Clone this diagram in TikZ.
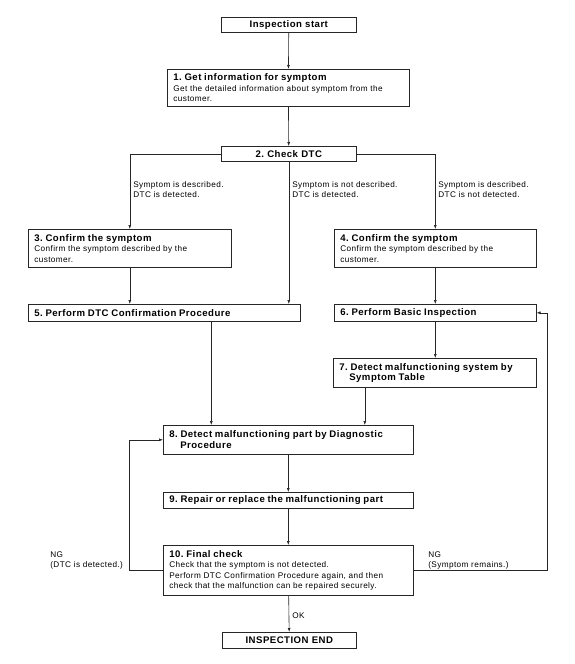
\documentclass[tikz,border=0pt]{standalone}
\usepackage{fontspec}
\setmainfont{Liberation Sans}[LetterSpace=5]
\usetikzlibrary{arrows.meta}
\frenchspacing

\newcommand{\steptitle}[1]{{\fontsize{9.6}{12.5}\selectfont\bfseries #1}}

\begin{document}
\begin{tikzpicture}[x=1pt,y=-1pt,>={Latex[length=4pt,width=3pt]},line width=0.6pt,
        box/.style={draw=black!85, text=black, anchor=north west, inner xsep=6pt, inner ysep=0pt,
            align=left, font=\fontsize{8.2}{10.5}\selectfont},
        endbox/.style={box, align=center, font=\fontsize{9.6}{11}\selectfont\bfseries},
        lbl/.style={text=black, anchor=base west, inner sep=0pt, align=left, font=\fontsize{8.2}{10.5}\selectfont}]
        \useasboundingbox (0,0) rectangle (575,664);

        % boxes
        \node[endbox, text width=123pt, minimum height=15pt] (start) at (221,17) {Inspection start};
        \node[box, text width=230pt, minimum height=37pt] (info) at (167,69)
            {\steptitle{1. Get information for symptom}\\Get the detailed information about symptom from the\\customer.};
        \node[endbox, text width=123pt, minimum height=15pt] (check) at (221,146) {2. Check DTC};
        \node[box, text width=191pt, minimum height=38pt] (conf3) at (28,229)
            {\steptitle{3. Confirm the symptom}\\Confirm the symptom described by the\\customer.};
        \node[box, text width=190pt, minimum height=38pt] (conf4) at (334,229)
            {\steptitle{4. Confirm the symptom}\\Confirm the symptom described by the\\customer.};
        \node[box, text width=260pt, minimum height=17pt] (dtc5) at (28,304)
            {\steptitle{5. Perform DTC Confirmation Procedure}};
        \node[box, text width=190pt, minimum height=17pt] (basic6) at (334,304)
            {\steptitle{6. Perform Basic Inspection}};
        \node[box, text width=191pt, minimum height=29pt] (table7) at (333,358)
            {\steptitle{7. Detect malfunctioning system by}\\\steptitle{\hspace*{10pt}Symptom Table}};
        \node[box, text width=238pt, minimum height=29pt] (diag8) at (163,425)
            {\steptitle{8. Detect malfunctioning part by Diagnostic}\\\steptitle{\hspace*{11pt}Procedure}};
        \node[box, text width=238pt, minimum height=16pt] (repair9) at (163,492)
            {\steptitle{9. Repair or replace the malfunctioning part}};
        \node[box, text width=238pt, minimum height=50pt] (final10) at (163,545)
            {\steptitle{10. Final check}\\Check that the symptom is not detected.\\Perform DTC Confirmation Procedure again, and then\\check that the malfunction can be repaired securely.};
        \node[endbox, text width=122pt, minimum height=16pt] (end) at (222,632) {INSPECTION END};

        % branch labels
        \node[lbl] (lblA) at (133,197.5) {Symptom is described.\\DTC is detected.};
        \node[lbl] (lblB) at (292,197.5) {Symptom is not described.\\DTC is detected.};
        \node[lbl] (lblC) at (438,197.5) {Symptom is described.\\DTC is not detected.};
        \node[lbl] (ngA) at (50,567.5) {NG\\(DTC is detected.)};
        \node[lbl] (ngB) at (428,567.5) {NG\\(Symptom remains.)};
        \node[lbl] (ok) at (292,618) {OK};

        % connectors
        \draw[->,black!85] (start) -- (info);
        \draw[->,black!85] (info) -- (check);
        \draw[->,black!85] (check.west) -| (conf3.north);
        \draw[->,black!85] (check.east) -| (conf4.north);
        \draw[->,black!85] (check.south) -- (check.south |- dtc5.north);
        \draw[->,black!85] (conf3.south) -- (conf3.south |- dtc5.north);
        \draw[->,black!85] (conf4) -- (basic6);
        \draw[->,black!85] ([xshift=47pt]dtc5.south) -- ([xshift=47pt]dtc5.south |- diag8.north);
        \draw[->,black!85] (basic6) -- (basic6 |- table7.north);
        \draw[->,black!85] ([xshift=-70pt]table7.south) -- ([xshift=-70pt]table7.south |- diag8.north);
        \draw[->,black!85] (diag8) -- (repair9);
        \draw[->,black!85] (repair9) -- (final10);
        \draw[->,black!85] (final10) -- (end);
        \draw[->,black!85] (final10.west) -- ++(-34,0) |- (diag8.west);
        \draw[->,black!85] (final10.east) -- ++(134,0) |- (basic6.east);
\end{tikzpicture}
\end{document}
